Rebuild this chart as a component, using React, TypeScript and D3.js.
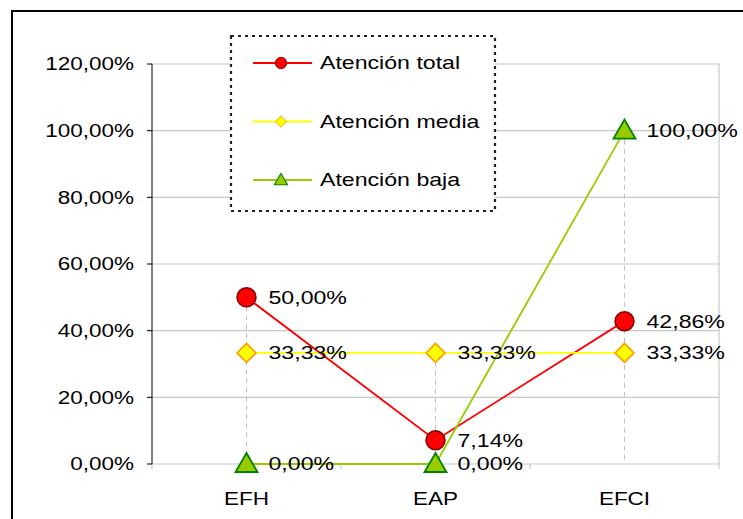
import React, { useEffect, useRef } from 'react';
import * as d3 from 'd3';

const categories = ['EFH', 'EAP', 'EFCI'];
const totalValues = [50.0, 7.14, 42.86];
const mediaValues = [33.33, 33.33, 33.33];
const bajaValues = [0.0, 0.0, 100.0];
const yTicks = [0, 20, 40, 60, 80, 100, 120];

const seriesList = [
  { name: 'Atención total', values: totalValues, line: '#ff0000', fill: '#ff0000', stroke: '#800000', shape: 'circle' },
  { name: 'Atención media', values: mediaValues, line: '#ffff00', fill: '#ffff00', stroke: '#ff9900', shape: 'diamond' },
  { name: 'Atención baja', values: bajaValues, line: '#99cc00', fill: '#99cc00', stroke: '#008000', shape: 'triangle' },
];

const fmt = (v: number) => v.toFixed(2).replace('.', ',') + '%';

const App = () => {
  const svgRef = useRef<SVGSVGElement>(null);

  useEffect(() => {
    const svg = d3.select(svgRef.current);
    svg.selectAll('*').remove();

    const font = '"Liberation Sans", Arial, sans-serif';
    const left = 152, right = 719, top = 64, bottom = 464;
    const stretch = 1.25;

    const x = d3.scaleBand().domain(categories).range([left, right]);
    const y = d3.scaleLinear().domain([0, 120]).range([bottom, top]);
    const cx = (c: string) => (x(c) as number) + x.bandwidth() / 2;

    // text is horizontally stretched in the original picture
    const addText = (sel: any, tx: number, ty: number, str: string, size: number, anchor = 'start') =>
      sel.append('text')
        .attr('transform', `translate(${tx},${ty}) scale(${stretch},1)`)
        .attr('dy', '0.35em').attr('text-anchor', anchor)
        .attr('font-family', font).attr('font-size', size).attr('fill', '#000').text(str);

    svg.append('rect').attr('width', 743).attr('height', 519).attr('fill', '#fff');

    // outer frame
    svg.append('rect')
      .attr('x', 12).attr('y', 11).attr('width', 760).attr('height', 540)
      .attr('fill', 'none').attr('stroke', '#000').attr('stroke-width', 2);

    const g = svg.append('g');

    // horizontal gridlines
    g.selectAll('.hgrid').data(yTicks).enter().append('line')
      .attr('x1', left).attr('x2', right)
      .attr('y1', (d) => y(d)).attr('y2', (d) => y(d))
      .attr('stroke', '#c8c8c8').attr('stroke-width', 1.2);

    // right border of plot
    g.append('line').attr('x1', right).attr('x2', right).attr('y1', top).attr('y2', bottom)
      .attr('stroke', '#c8c8c8').attr('stroke-width', 1.2);

    // drop lines
    categories.forEach((c, i) => {
      const mx = d3.max(seriesList, (s) => s.values[i]) as number;
      g.append('line').attr('x1', cx(c)).attr('x2', cx(c)).attr('y1', y(mx)).attr('y2', bottom)
        .attr('stroke', '#c0c0c0').attr('stroke-width', 1).attr('stroke-dasharray', '5,4');
    });

    // x axis ticks at band edges
    const edges = [left, ...categories.map((c) => (x(c) as number) + x.bandwidth())];
    g.selectAll('.xt').data(edges).enter().append('line')
      .attr('x1', (d) => d).attr('x2', (d) => d).attr('y1', bottom).attr('y2', bottom + 5)
      .attr('stroke', '#c0c0c0');

    // y axis
    g.append('line').attr('x1', left).attr('x2', left).attr('y1', top).attr('y2', bottom)
      .attr('stroke', '#000').attr('stroke-width', 1);
    g.selectAll('.yt').data(yTicks).enter().append('line')
      .attr('x1', left - 5).attr('x2', left).attr('y1', (d) => y(d)).attr('y2', (d) => y(d))
      .attr('stroke', '#000');
    yTicks.forEach((t) => addText(g, 134, y(t), fmt(t), 18, 'end'));

    categories.forEach((c) => addText(g, cx(c), 499, c, 18, 'middle'));

    const drawMarker = (sel: any, s: any, px: number, py: number) => {
      if (s.shape === 'circle') {
        sel.append('circle').attr('cx', px).attr('cy', py).attr('r', 9.5)
          .attr('fill', s.fill).attr('stroke', s.stroke).attr('stroke-width', 1.5);
      } else if (s.shape === 'diamond') {
        const r = 9.5;
        sel.append('path')
          .attr('d', `M${px},${py - r}L${px + r},${py}L${px},${py + r}L${px - r},${py}Z`)
          .attr('fill', s.fill).attr('stroke', s.stroke).attr('stroke-width', 1.5);
      } else {
        sel.append('path')
          .attr('d', `M${px},${py - 11}L${px + 11},${py + 8}L${px - 11},${py + 8}Z`)
          .attr('fill', s.fill).attr('stroke', s.stroke).attr('stroke-width', 1.8);
      }
    };

    const line = d3.line<number>().x((d, i) => cx(categories[i])).y((d) => y(d));

    seriesList.forEach((s) => {
      g.append('path').datum(s.values).attr('d', line)
        .attr('fill', 'none').attr('stroke', s.line).attr('stroke-width', 1.8);
    });
    seriesList.forEach((s) => {
      s.values.forEach((v, i) => drawMarker(g, s, cx(categories[i]), y(v)));
    });
    seriesList.forEach((s) => {
      s.values.forEach((v, i) => addText(g, cx(categories[i]) + 22, y(v), fmt(v), 18.5));
    });

    // legend
    const lg = svg.append('g');
    lg.append('rect').attr('x', 231).attr('y', 36).attr('width', 264).attr('height', 175)
      .attr('fill', '#fff').attr('stroke', '#222').attr('stroke-width', 2.2)
      .attr('stroke-dasharray', '3,4');
    seriesList.forEach((s, i) => {
      const ly = 63 + i * 58.5;
      lg.append('line').attr('x1', 253).attr('x2', 312).attr('y1', ly).attr('y2', ly)
        .attr('stroke', s.line).attr('stroke-width', 1.8);
      const ms = lg.append('g').attr('transform', `translate(281,${ly}) scale(0.6) translate(-281,${-ly})`);
      drawMarker(ms, s, 281, ly);
      addText(lg, 320, ly, s.name, 18.5);
    });
  }, []);

  return <svg ref={svgRef} width={743} height={519} style={{ position: 'absolute', left: 0, top: 0 }} />;
};

export default App;
